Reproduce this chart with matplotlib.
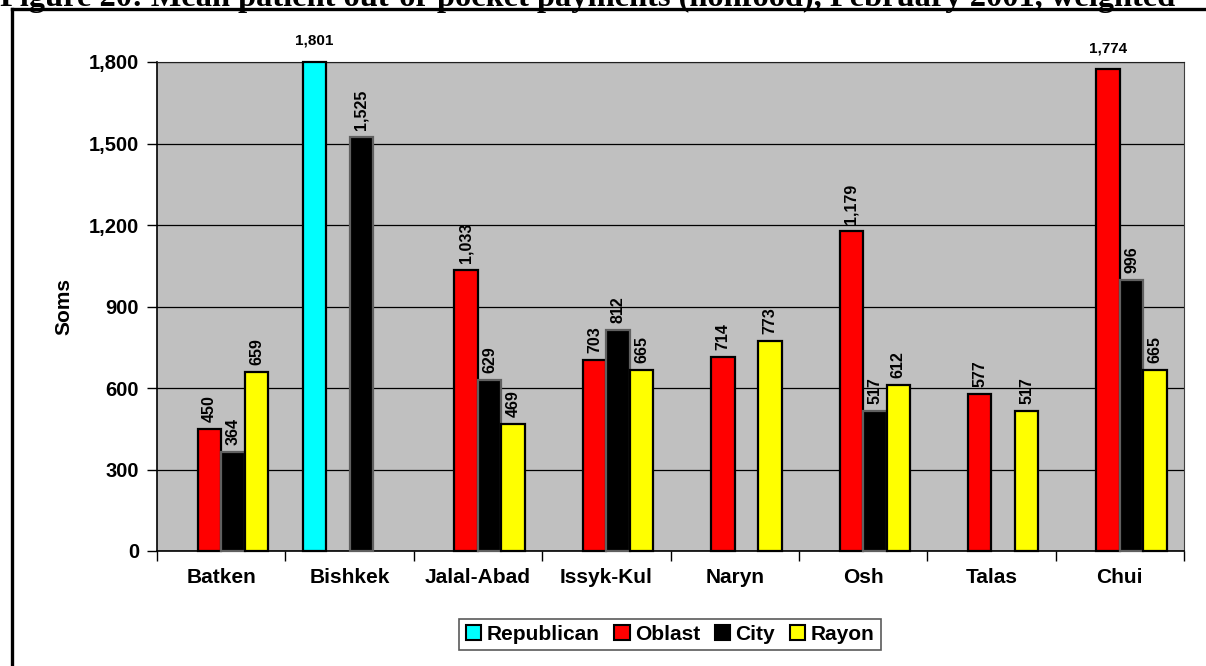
import matplotlib
matplotlib.use("Agg")
import matplotlib.pyplot as plt
from matplotlib.lines import Line2D
from matplotlib.patches import Patch
import numpy as np

plt.rcParams['font.family'] = ['Liberation Sans', 'DejaVu Sans']
plt.rcParams['font.weight'] = 'bold'

# mean out-of-pocket payments per oblast, by facility level (nan = no facility)
regions = ['Batken', 'Bishkek', 'Jalal-Abad', 'Issyk-Kul', 'Naryn', 'Osh', 'Talas', 'Chui']
republican = [np.nan, 1801, np.nan, np.nan, np.nan, np.nan, np.nan, np.nan]
oblast = [450, np.nan, 1033, 703, 714, 1179, 577, 1774]
city = [364, 1525, 629, 812, np.nan, 517, np.nan, 996]
rayon = [659, np.nan, 469, 665, 773, 612, 517, 665]

series = ['Republican', 'Oblast', 'City', 'Rayon']
colors = ['#00FFFF', '#FF0000', '#000000', '#FFFF00']
edges = ['black', 'black', '#606060', 'black']
yticks = [0, 300, 600, 900, 1200, 1500, 1800]

fig = plt.figure(figsize=(12.06, 6.66), dpi=100)
ax = fig.add_axes([157/1206, 115/666, 1027/1206, 489/666])
ax.set_facecolor('#C0C0C0')

x = np.arange(len(regions))
w = 0.183
for k, vals in enumerate([republican, oblast, city, rayon]):
    off = (k - 1.5) * w
    for i, v in enumerate(vals):
        if np.isnan(v):
            continue
        ax.bar(x[i] + off, v, w, color=colors[k], edgecolor=edges[k],
               linewidth=1.6, zorder=3, clip_on=False)
        txt = '{:,}'.format(int(v))
        if v > 1700:
            ax.annotate(txt, (x[i] + off, v), xytext=(0, 10), textcoords='offset points',
                        ha='center', va='bottom', fontsize=11, fontweight='bold')
        else:
            ax.annotate(txt, (x[i] + off, v), xytext=(0, 5), textcoords='offset points',
                        ha='center', va='bottom', rotation=90, fontsize=11.5,
                        fontweight='bold')

ax.set_xlim(-0.5, len(regions) - 0.5)
ax.set_ylim(0, 1800)
ax.set_yticks(yticks)
ax.set_yticklabels(['{:,}'.format(t) for t in yticks], fontsize=14.5, fontweight='bold')
ax.yaxis.grid(True, color='black', linewidth=0.9, zorder=1)
ax.set_axisbelow(True)
ax.tick_params(axis='y', direction='out', length=7, width=1, pad=6)

ax.set_xticks(x)
ax.set_xticklabels(regions, fontsize=15, fontweight='bold')
ax.set_xticks(np.arange(-0.5, len(regions)), minor=True)
ax.tick_params(axis='x', which='major', length=0, pad=12)
ax.tick_params(axis='x', which='minor', direction='out', length=7, width=1)

ax.set_ylabel('Soms', fontsize=15, fontweight='bold', labelpad=11)

for s in ['left', 'bottom']:
    ax.spines[s].set_color('black')
    ax.spines[s].set_linewidth(1.2)
ax.spines['top'].set_color('#202020')
ax.spines['right'].set_color('#404040')

handles = [Patch(facecolor=c, edgecolor='black', linewidth=1.5) for c in colors]
leg = fig.legend(handles, series, loc='center', bbox_to_anchor=(670/1206, 31.5/666),
                 ncol=4, frameon=True, fancybox=False,
                 handlelength=0.75, handleheight=0.75, handletextpad=0.25,
                 columnspacing=0.7, borderpad=0.3, prop={'weight': 'bold', 'size': 15})
leg.get_frame().set_edgecolor('#303030')
leg.get_frame().set_linewidth(1.2)

# outer box lines and caption, which sits above the box
fig.add_artist(Line2D([12/1206, 12/1206], [0, 1 - 9/666], transform=fig.transFigure,
                      color='black', linewidth=2.4))
fig.add_artist(Line2D([12/1206, 1], [1 - 9/666, 1 - 9/666], transform=fig.transFigure,
                      color='black', linewidth=2.4))
fig.text(0.0, 1 - 6/666, 'Figure 20: Mean patient out-of-pocket payments (nonfood), February 2001, weighted',
         family='Liberation Serif', fontweight='bold', fontsize=23.3, va='baseline', ha='left')

fig.savefig('out.png', dpi=100)
